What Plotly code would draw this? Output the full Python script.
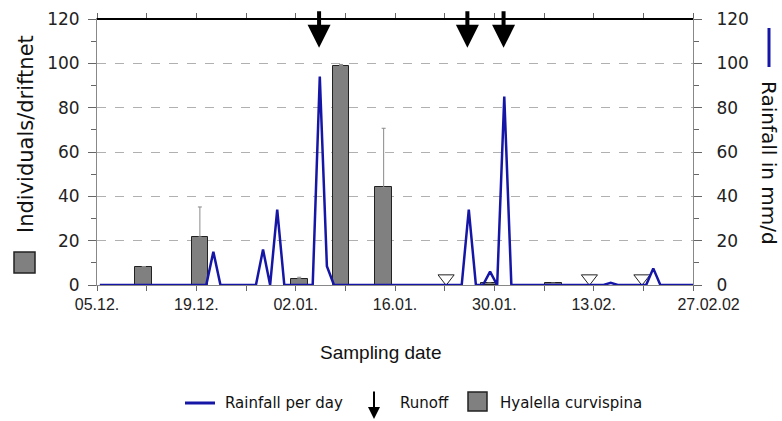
import plotly.graph_objects as go
import numpy as np

# ---------------- data ----------------
tick_days = [0, 14, 28, 42, 56, 70, 84]
tick_labels = ["05.12.", "19.12.", "02.01.", "16.01.", "30.01.", "13.02.",
               "\u00a0" * 7 + "27.02.02"]

# drift samples (days after 05.12.)
sample_days = [6.6, 14.5, 28.5, 34.4, 40.4, 55.3, 64.3]
individuals = [8.3, 21.6, 2.8, 99.0, 44.0, 0.8, 0.8]
individuals_err = [None, 13.6, 0.7, 0.5, 26.7, None, None]

# samples with no individuals (open triangles)
zero_days = [49.2, 69.4, 76.8]
zero_vals = [3, 3, 3]

# runoff events (arrows)
runoff_days = [31.3, 52.2, 57.3]

# daily rainfall in mm/d, day 0 = 05.12.
rain_mm = [0, 0, 0, 0, 0, 0, 0, 0, 0, 0, 0, 0, 0, 0, 0, 0,
           15, 0, 0, 0, 0, 0, 0, 16, 0, 34, 0, 0, 0, 0, 0,
           94, 8.5, 0, 0, 0, 0, 0, 0, 0, 0, 0, 0, 0, 0, 0, 0, 0, 0, 0, 0, 0,
           34, 0, 0, 6, 0, 85, 0, 0, 0, 0, 0, 0, 0, 0, 0, 0, 0, 0, 0, 0,
           1, 0, 0, 0, 0, 0, 7.5, 0, 0, 0, 0, 0, 0]
rain_days = list(range(len(rain_mm)))

# ---------------- layout helpers ----------------
W, H = 782, 421
L, R, T, B = 97, 693, 19, 285


def px2x(px):
    return (px - L) / (R - L)


def py2y(py):
    return (B - py) / (B - T)


BLUE = "#1616a6"
DV = "DejaVu Sans"
LIB = "Liberation Sans"

rain_x = np.clip(np.array(rain_days) + 0.4, 0, 84)

fig = go.Figure()

fig.add_trace(go.Bar(
    x=sample_days, y=individuals, width=2.35,
    marker=dict(color="#808080", line=dict(color="#222222", width=1)),
    error_y=dict(type="data", symmetric=False, array=individuals_err,
                 arrayminus=[0] * len(individuals), color="#8a8a8a",
                 thickness=1, width=2),
    showlegend=False,
))

fig.add_trace(go.Scatter(
    x=rain_x, y=rain_mm, yaxis="y2", mode="lines",
    line=dict(color=BLUE, width=2.5), cliponaxis=False, showlegend=False,
))

fig.add_trace(go.Scatter(
    x=zero_days, y=zero_vals, mode="markers",
    marker=dict(symbol="triangle-down", size=14, color="white",
                line=dict(color="#222222", width=1)),
    cliponaxis=False, showlegend=False,
))

annotations = []
for d in runoff_days:
    annotations.append(dict(
        x=d, y=107, xref="x", yref="y", ax=0, ay=-38, text="",
        showarrow=True, arrowhead=2, arrowsize=1.15, arrowwidth=4,
        arrowcolor="black",
    ))

# axis titles
annotations.append(dict(
    x=px2x(26), y=py2y(134), xref="paper", yref="paper", text="Individuals/driftnet",
    textangle=-90, showarrow=False, font=dict(family=DV, size=21, color="#111"),
    xanchor="center", yanchor="middle",
))
annotations.append(dict(
    x=px2x(769), y=py2y(163), xref="paper", yref="paper", text="Rainfall in mm/d",
    textangle=90, showarrow=False, font=dict(family=DV, size=20, color="#111"),
    xanchor="center", yanchor="middle",
))
annotations.append(dict(
    x=px2x(380), y=py2y(352), xref="paper", yref="paper", text="Sampling date",
    showarrow=False, font=dict(family=LIB, size=19, color="#111"),
    xanchor="center", yanchor="middle",
))

# legend
annotations.append(dict(
    x=px2x(223), y=py2y(403), xref="paper", yref="paper", text="Rainfall per day",
    showarrow=False, font=dict(family=DV, size=15, color="#111"),
    xanchor="left", yanchor="middle",
))
annotations.append(dict(
    x=px2x(398), y=py2y(403), xref="paper", yref="paper", text="Runoff",
    showarrow=False, font=dict(family=DV, size=15, color="#111"),
    xanchor="left", yanchor="middle",
))
annotations.append(dict(
    x=px2x(498), y=py2y(403), xref="paper", yref="paper", text="Hyalella curvispina",
    showarrow=False, font=dict(family=DV, size=15, color="#111"),
    xanchor="left", yanchor="middle",
))
annotations.append(dict(
    x=px2x(374), y=py2y(419), xref="paper", yref="paper", ax=0, ay=-29, text="",
    showarrow=True, arrowhead=2, arrowsize=1.2, arrowwidth=2, arrowcolor="black",
))

shapes = [
    # top border
    dict(type="line", xref="paper", yref="paper", x0=0, x1=1, y0=1, y1=1,
         line=dict(color="black", width=2)),
    # legend line
    dict(type="line", xref="paper", yref="paper", x0=px2x(185), x1=px2x(215),
         y0=py2y(403), y1=py2y(403), line=dict(color=BLUE, width=3)),
    # legend square
    dict(type="rect", xref="paper", yref="paper", x0=px2x(468), x1=px2x(487),
         y0=py2y(411), y1=py2y(392), fillcolor="#808080",
         line=dict(color="#222222", width=1.5)),
    # left title square
    dict(type="rect", xref="paper", yref="paper", x0=px2x(14), x1=px2x(35),
         y0=py2y(273), y1=py2y(252), fillcolor="#808080",
         line=dict(color="#222222", width=1.5)),
    # right title line
    dict(type="line", xref="paper", yref="paper", x0=px2x(769), x1=px2x(769),
         y0=py2y(67), y1=py2y(28), line=dict(color=BLUE, width=3)),
]

fig.update_layout(
    width=W, height=H,
    margin=dict(l=L, r=W - R, t=T, b=H - B, pad=0, autoexpand=False),
    plot_bgcolor="white", paper_bgcolor="white",
    bargap=0, showlegend=False,
    annotations=annotations, shapes=shapes,
    xaxis=dict(
        range=[0, 84], tickvals=tick_days, ticktext=tick_labels,
        ticks="outside", ticklen=5, tickcolor="#666", tickwidth=1,
        showline=True, linecolor="#888", linewidth=1, mirror="allticks",
        showgrid=False, zeroline=False, automargin=False,
        minor=dict(dtick=7, tick0=0, ticks="outside", ticklen=5, tickcolor="#666"),
        tickfont=dict(family=LIB, size=16, color="#222"),
    ),
    yaxis=dict(
        range=[0, 120], dtick=20, ticks="outside", ticklen=8, tickcolor="#666",
        showline=True, linecolor="#888", linewidth=1, automargin=False,
        showgrid=True, gridcolor="#b0b0b0", griddash="dash", gridwidth=1,
        zeroline=False,
        minor=dict(dtick=10, ticks="outside", ticklen=5, tickcolor="#666", showgrid=False),
        tickfont=dict(family=DV, size=17, color="#222"),
        ticklabelstandoff=5,
    ),
    yaxis2=dict(
        range=[0, 120], dtick=20, overlaying="y", side="right",
        ticks="outside", ticklen=8, tickcolor="#666", automargin=False,
        showline=True, linecolor="#888", linewidth=1,
        showgrid=False, zeroline=False,
        minor=dict(dtick=10, ticks="outside", ticklen=5, tickcolor="#666"),
        tickfont=dict(family=DV, size=17, color="#222"),
        ticklabelstandoff=11,
    ),
)

fig.write_html(
    "out.html",
    config={"displayModeBar": False},
    post_script="document.body.style.margin='0';document.body.style.padding='0';",
)
